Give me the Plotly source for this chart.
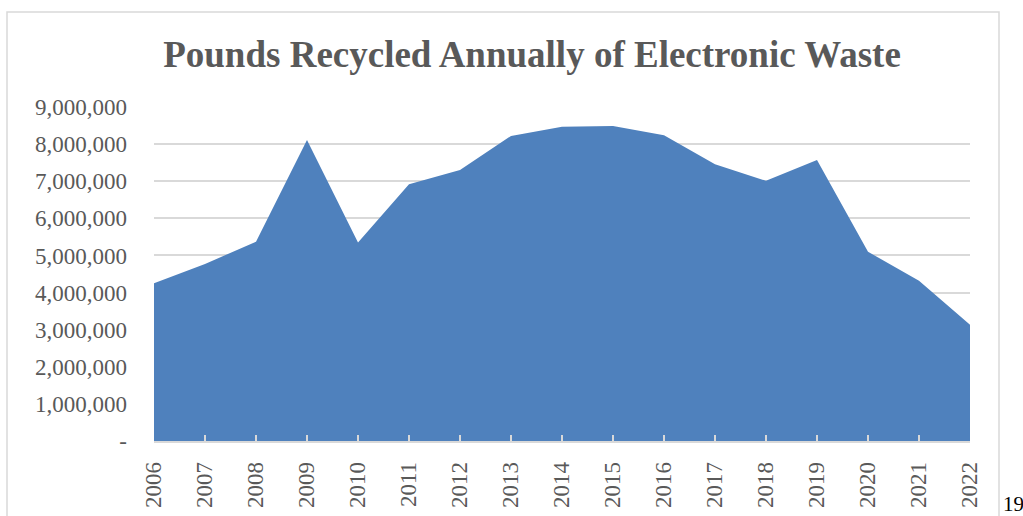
import plotly.graph_objects as go

# Annual pounds of electronic waste recycled
years = [2006, 2007, 2008, 2009, 2010, 2011, 2012, 2013, 2014,
         2015, 2016, 2017, 2018, 2019, 2020, 2021, 2022]
pounds = [4250000, 4770000, 5370000, 8110000, 5350000, 6920000, 7300000,
          8220000, 8470000, 8490000, 8240000, 7460000, 7010000, 7570000,
          5100000, 4320000, 3130000]

y_ticks = [0, 1000000, 2000000, 3000000, 4000000, 5000000,
           6000000, 7000000, 8000000, 9000000]
y_tick_text = ["-", "1,000,000", "2,000,000", "3,000,000", "4,000,000",
               "5,000,000", "6,000,000", "7,000,000", "8,000,000", "9,000,000"]

SERIF = "Liberation Serif, Times New Roman, serif"
GRAY = "#595959"
GRID = "#d9d9d9"

fig = go.Figure()
fig.add_trace(go.Scatter(
    x=years, y=pounds, mode="lines", fill="tozeroy",
    line=dict(color="#4f81bd", width=0), fillcolor="#4f81bd",
    hoverinfo="x+y",
))

W, H = 1023, 516
L, R, T, B = 154, 53, 107, 75
pw, ph = W - L - R, H - T - B

def px_x(p):
    return (p - L) / pw

def px_y(p):
    return (H - B - p) / ph

fig.update_layout(
    width=W, height=H,
    margin=dict(l=L, r=R, t=T, b=B, autoexpand=False),
    paper_bgcolor="white", plot_bgcolor="white",
    showlegend=False,
    title=dict(
        text="<b>Pounds Recycled Annually of Electronic Waste</b>",
        font=dict(family=SERIF, size=37, color=GRAY),
        x=532 / W, xanchor="center", xref="container",
        y=1 - 54 / H, yanchor="middle", yref="container",
    ),
    xaxis=dict(
        range=[2006, 2022], tickvals=years, ticktext=[str(y) for y in years],
        tickangle=-90, tickfont=dict(family=SERIF, size=23, color=GRAY),
        showgrid=False, zeroline=False, automargin=False,
        showline=True, linecolor=GRID, linewidth=1.5,
        ticks="inside", ticklen=6, tickcolor=GRID, tickwidth=1.5,
        ticklabelstandoff=10,
    ),
    yaxis=dict(
        range=[0, 9000000], tickvals=y_ticks, ticktext=y_tick_text,
        tickfont=dict(family=SERIF, size=23, color=GRAY),
        showgrid=True, gridcolor=GRID, gridwidth=1.5,
        zeroline=False, showline=False, ticks="", automargin=False,
        ticklabelstandoff=26,
    ),
    shapes=[dict(
        type="rect", xref="paper", yref="paper",
        x0=px_x(7), x1=px_x(999), y0=px_y(530), y1=px_y(12),
        line=dict(color=GRID, width=1.5), fillcolor="rgba(0,0,0,0)",
        layer="below",
    )],
    annotations=[dict(
        text="19", xref="paper", yref="paper",
        x=px_x(1001), y=px_y(504), xanchor="left", yanchor="middle",
        showarrow=False, font=dict(family=SERIF, size=21, color="black"),
    )],
)

fig.write_html("out.html")
